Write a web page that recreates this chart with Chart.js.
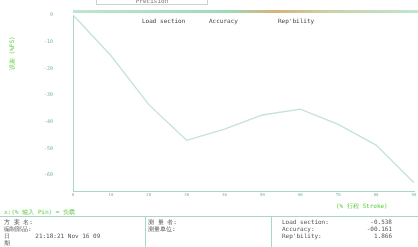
<!DOCTYPE html>
<html>
<head>
<meta charset="utf-8">
<script src="https://cdn.jsdelivr.net/npm/chart.js@4"></script>
<style>
  html, body { margin: 0; padding: 0; background: #fff; }
  #wrap { position: relative; width: 418px; height: 247px; overflow: hidden; font-family: "DejaVu Sans Mono", monospace; }
  #chartBox { position: absolute; left: 0; top: 0; width: 418px; height: 206px; }
  .t { position: absolute; white-space: pre; font-size: 6px; color: #555; line-height: 7px; }
  .g { color: #5ccc3c; }
  .ln { position: absolute; background: #a9d6c8; }
</style>
</head>
<body>
<div id="wrap">
  <div id="chartBox"><canvas id="errChart"></canvas></div>

  <!-- top title box and legend strip -->
  <div class="t" style="left:96px;top:-3px;width:110px;height:7px;border:1px solid #cfcfcf;border-top:none;text-align:center;color:#777;">Precision</div>
  <div class="ln" style="left:73px;top:10px;width:345px;height:3px;background:linear-gradient(90deg,#bfe6cf 0%,#9fd9b8 45%,#d7b27a 58%,#c9d3a8 75%,#bfe6cf 100%);"></div>
  <div class="t" style="left:142px;top:17px;color:#444;">Load section</div>
  <div class="t" style="left:209px;top:17px;color:#444;">Accuracy</div>
  <div class="t" style="left:278px;top:17px;color:#444;">Rep'bility</div>

  <!-- axis titles -->
  <div class="t g" style="left:8px;top:70px;transform:rotate(-90deg);transform-origin:left top;">误差 (%FS)</div>
  <div class="t g" style="left:4px;top:208px;">x:(% 输入 Pin) = 负载</div>
  <div class="t g" style="left:336px;top:202px;">(% 行程 Stroke)</div>

  <!-- info table -->
  <div class="ln" style="left:0;top:216px;width:418px;height:1px;"></div>
  <div class="ln" style="left:145px;top:216px;width:1px;height:31px;"></div>
  <div class="ln" style="left:271px;top:216px;width:1px;height:31px;"></div>
  <div class="t" style="left:4px;top:218px;">方 案 名:</div>
  <div class="t" style="left:4px;top:225px;">编制部品:</div>
  <div class="t" style="left:4px;top:232px;">日       21:18:21 Nov 16 09</div>
  <div class="t" style="left:4px;top:239px;">期</div>
  <div class="t" style="left:148px;top:218px;">测 量 者:</div>
  <div class="t" style="left:148px;top:225px;">测量单位:</div>
  <div class="t" style="left:282px;top:218px;">Load section:</div>
  <div class="t" style="left:282px;top:225px;">Accuracy:</div>
  <div class="t" style="left:282px;top:232px;">Rep'bility:</div>
  <div class="t" style="left:350px;top:218px;width:42px;text-align:right;">-0.538</div>
  <div class="t" style="left:350px;top:225px;width:42px;text-align:right;">-00.161</div>
  <div class="t" style="left:350px;top:232px;width:42px;text-align:right;">1.866</div>
</div>

<script>
// stroke positions (% of range) and measured error
const strokePos = [0, 10, 20, 30, 40, 50, 60, 70, 80, 90];
const errValues = [0, -15.2, -33.6, -47.0, -42.8, -37.5, -35.3, -41.0, -48.8, -62.9];
const yTicks = [0, -10, -20, -30, -40, -50, -60];

const axisColor = '#a9d6c8';
const tickColor = '#7fb0a2';

const points = strokePos.map((x, i) => ({ x: x, y: errValues[i] }));

new Chart(document.getElementById('errChart'), {
    type: 'line',
    data: {
        datasets: [{
            data: points,
            borderColor: '#c4e2dc',
            borderWidth: 1.3,
            pointRadius: 0,
            tension: 0
        }]
    },
    options: {
        responsive: true,
        maintainAspectRatio: false,
        animation: false,
        layout: { padding: { left: 0, right: 4, top: 12, bottom: 0 } },
        plugins: {
            legend: { display: false },
            tooltip: { enabled: false }
        },
        scales: {
            x: {
                type: 'linear',
                min: 0,
                max: 90,
                afterBuildTicks: s => { s.ticks = strokePos.map(v => ({ value: v })); },
                afterFit: s => { s.height = 7; },
                grid: { display: false, drawTicks: true, tickLength: 2 },
                border: { color: axisColor, width: 1 },
                ticks: {
                    color: tickColor,
                    font: { size: 4, family: 'DejaVu Sans Mono' },
                    padding: 0,
                    maxRotation: 0
                }
            },
            y: {
                min: -66,
                max: 0,
                afterBuildTicks: s => { s.ticks = yTicks.map(v => ({ value: v })); },
                afterFit: s => { s.width = 73; },
                grid: { display: false },
                border: { color: axisColor, width: 1 },
                ticks: {
                    color: tickColor,
                    font: { size: 5, family: 'DejaVu Sans Mono' },
                    padding: 12
                }
            }
        }
    }
});
</script>
</body>
</html>
